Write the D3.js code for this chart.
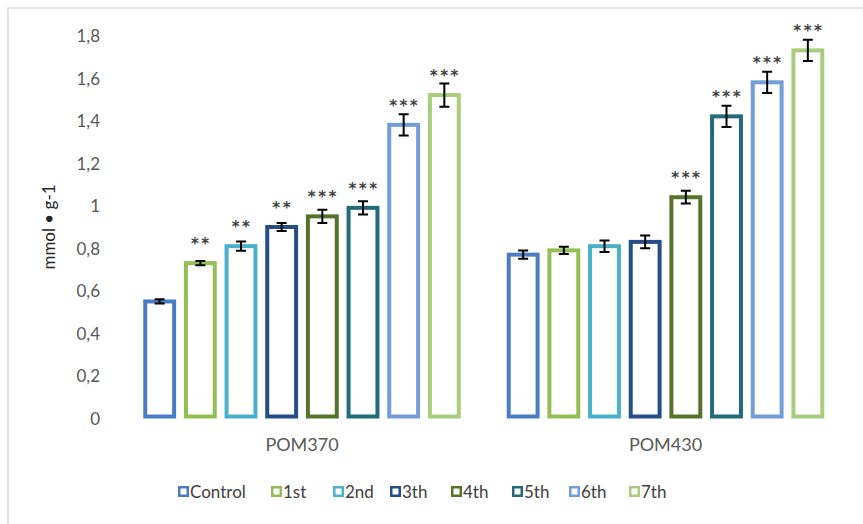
<!DOCTYPE html>
<html>
<head>
<meta charset="utf-8">
<script src="https://cdn.jsdelivr.net/npm/d3@7"></script>
<style>
  html, body { margin: 0; padding: 0; background: #fff; }
  svg { display: block; font-family: Lato, "Open Sans", sans-serif; }
</style>
</head>
<body>
<svg id="chart" width="863" height="524"></svg>
<script>
// Groups on the x axis and the treatment series inside each group
const groups = ["POM370", "POM430"];
const series = ["Control", "1st", "2nd", "3th", "4th", "5th", "6th", "7th"];
const seriesColors = ["#4a7cc4", "#93bf52", "#4bb0cc", "#264e86", "#55742a", "#226b7a", "#729dd6", "#a9cd7c"];

// Mean values (mmol • g-1), one array per group, in series order
const pom370Values = [0.55, 0.73, 0.81, 0.90, 0.95, 0.99, 1.38, 1.52];
const pom430Values = [0.77, 0.79, 0.81, 0.83, 1.04, 1.42, 1.58, 1.73];

// Error bar half-widths
const pom370Errors = [0.01, 0.01, 0.022, 0.019, 0.031, 0.031, 0.05, 0.055];
const pom430Errors = [0.019, 0.017, 0.027, 0.03, 0.03, 0.05, 0.05, 0.05];

// Significance marks
const pom370Marks = ["", "**", "**", "**", "***", "***", "***", "***"];
const pom430Marks = ["", "", "", "", "***", "***", "***", "***"];

// Y axis ticks
const yTicks = [0, 0.2, 0.4, 0.6, 0.8, 1, 1.2, 1.4, 1.6, 1.8];
const yTitle = "mmol • g-1";

const valuesByGroup = [pom370Values, pom430Values];
const errorsByGroup = [pom370Errors, pom430Errors];
const marksByGroup = [pom370Marks, pom430Marks];

const rows = [];
groups.forEach((g, gi) => {
  series.forEach((s, si) => {
    rows.push({ group: g, series: s, color: seriesColors[si],
      value: valuesByGroup[gi][si], err: errorsByGroup[gi][si], mark: marksByGroup[gi][si] });
  });
});

const svg = d3.select("#chart");

// Chart area frame
svg.append("rect")
  .attr("x", 8).attr("y", 8).attr("width", 900).attr("height", 560)
  .attr("fill", "none").attr("stroke", "#d9d9d9").attr("stroke-width", 1.5);

const x0 = d3.scaleBand().domain(groups).range([120.25, 847.25]).paddingInner(0.105).paddingOuter(0.0525);
const x1 = d3.scaleBand().domain(series).range([0, x0.bandwidth()]).paddingInner(0.29).paddingOuter(0.145);
const y = d3.scaleLinear().domain([0, 1.8]).range([418.5, 35.5]);

// Y axis: labels only
const yAxis = d3.axisLeft(y).tickValues(yTicks)
  .tickFormat(d => d3.format(".1~f")(d).replace(".", ","))
  .tickSize(0).tickPadding(0);
const yG = svg.append("g").attr("transform", "translate(100,0)").call(yAxis);
yG.select(".domain").remove();
yG.selectAll("text").attr("fill", "#595959").style("font-size", "17px")
  .style("font-family", "Lato, sans-serif").attr("dy", "0.35em");

svg.append("text")
  .attr("transform", "translate(55,227) rotate(-90)")
  .attr("text-anchor", "middle")
  .attr("fill", "#262626")
  .style("font-size", "17px")
  .text(yTitle);

// X axis: category labels
const xAxis = d3.axisBottom(x0).tickSize(0).tickPadding(0);
const xG = svg.append("g").attr("transform", "translate(0,445)").call(xAxis);
xG.select(".domain").remove();
xG.selectAll("text").attr("fill", "#595959").style("font-size", "18px")
  .style("font-family", "Lato, sans-serif").attr("dy", "0.35em");

const sw = 4;
const bars = svg.append("g").selectAll("g.bar").data(rows).join("g").attr("class", "bar");

bars.append("rect")
  .attr("x", d => x0(d.group) + x1(d.series))
  .attr("y", d => y(d.value))
  .attr("width", x1.bandwidth())
  .attr("height", d => y(0) - sw / 2 - y(d.value))
  .attr("fill", "#fff")
  .attr("stroke", d => d.color)
  .attr("stroke-width", sw);

// Error bars
const cx = d => x0(d.group) + x1(d.series) + x1.bandwidth() / 2;
const capW = 5;
bars.append("path")
  .attr("d", d => {
    const c = cx(d), t = y(d.value + d.err), b = y(d.value - d.err);
    return `M${c},${t}V${b}M${c - capW},${t}H${c + capW}M${c - capW},${b}H${c + capW}`;
  })
  .attr("fill", "none").attr("stroke", "#000").attr("stroke-width", 2);

// Significance asterisks
bars.filter(d => d.mark).append("text")
  .attr("x", d => cx(d) + 1)
  .attr("y", d => y(d.value) - 14)
  .attr("text-anchor", "middle")
  .attr("fill", "#3f3f3f")
  .style("font-family", "'DejaVu Sans', sans-serif")
  .style("font-size", "15px")
  .style("font-weight", "bold")
  .style("letter-spacing", "2.5px")
  .text(d => d.mark);

// Legend
const legend = svg.append("g").attr("transform", "translate(0,492)");
const legendX = [178, 271, 333, 390, 451, 512, 569, 629];
const items = legend.selectAll("g").data(series).join("g")
  .attr("transform", (d, i) => `translate(${legendX[i]},0)`);
items.append("rect")
  .attr("x", 1.25).attr("y", -4.75).attr("width", 8.5).attr("height", 8.5)
  .attr("fill", "#fff")
  .attr("stroke", (d, i) => seriesColors[i]).attr("stroke-width", 2.5);
items.append("text")
  .attr("x", 12).attr("dy", "0.35em")
  .attr("fill", "#404040").style("font-size", "17px")
  .text(d => d);
</script>
</body>
</html>
